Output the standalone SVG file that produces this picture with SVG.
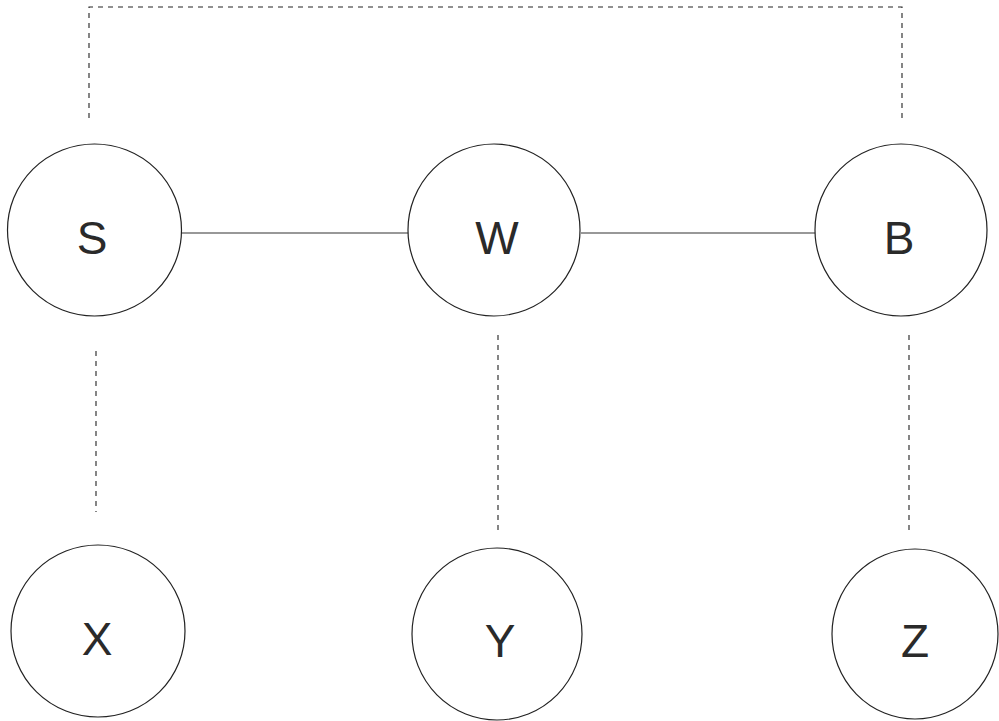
<svg xmlns="http://www.w3.org/2000/svg" width="999" height="721" viewBox="0 0 999 721">
<style>
.node ellipse{fill:#fff;stroke:#222;stroke-width:1.2}
.node text{font-family:"Liberation Sans",Arial,sans-serif;font-size:46px;fill:#2a2a2a;text-anchor:middle}
.solid{stroke:#333;stroke-width:1.2;fill:none}
.dash{stroke:#222;stroke-width:1.1;fill:none;stroke-dasharray:5 5}
</style>
<rect width="999" height="721" fill="#fff"/>
<g id="connectors">
<polyline class="dash" points="89,118 89,7 902,7 902,120"/>
<line class="solid" x1="181" y1="233" x2="408" y2="233"/>
<line class="solid" x1="581" y1="233" x2="815" y2="233"/>
<line class="dash" x1="96" y1="351" x2="96" y2="512"/>
<line class="dash" x1="498" y1="335" x2="498" y2="530"/>
<line class="dash" x1="909" y1="335" x2="909" y2="530"/>
</g>
<g id="node-S" class="node"><ellipse cx="94.5" cy="230" rx="87" ry="86"/><text x="92" y="254">S</text></g>
<g id="node-W" class="node"><ellipse cx="494" cy="230" rx="86" ry="86"/><text x="497" y="254">W</text></g>
<g id="node-B" class="node"><ellipse cx="901" cy="230" rx="86" ry="86"/><text x="899" y="254">B</text></g>
<g id="node-X" class="node"><ellipse cx="98" cy="631" rx="87" ry="86"/><text x="97" y="655">X</text></g>
<g id="node-Y" class="node"><ellipse cx="497" cy="634" rx="85" ry="86"/><text x="500" y="657">Y</text></g>
<g id="node-Z" class="node"><ellipse cx="915" cy="634" rx="83" ry="85"/><text x="915" y="657">Z</text></g>
</svg>
